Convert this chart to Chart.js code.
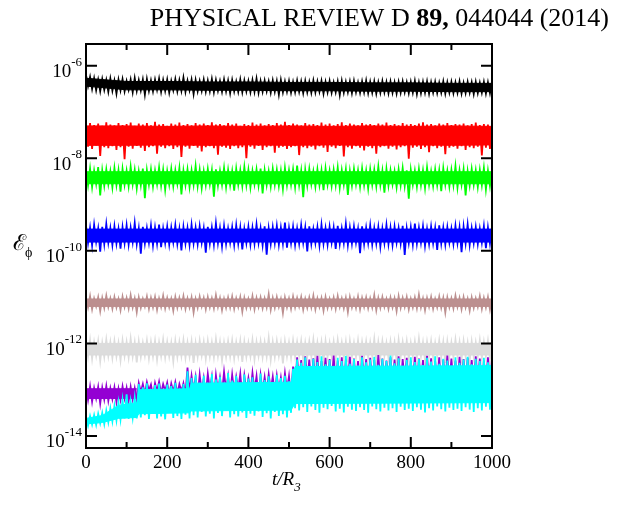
<!DOCTYPE html>
<html><head><meta charset="utf-8">
<script src="https://cdn.jsdelivr.net/npm/chart.js@4/dist/chart.umd.min.js"></script>
<style>html,body{margin:0;padding:0;background:#fff;}#wrap{position:relative;width:618px;height:506px;}</style>
</head><body><div id="wrap"><canvas id="c" width="618" height="506"></canvas></div>
<script>
// time samples t/R3
const tValues = [
0,5,10,15,20,25,30,35,40,45,50,55,60,65,70,75,80,85,90,95,
100,105,110,115,120,125,130,135,140,145,150,155,160,165,170,175,180,185,190,195,
200,205,210,215,220,225,230,235,240,245,250,255,260,265,270,275,280,285,290,295,
300,305,310,315,320,325,330,335,340,345,350,355,360,365,370,375,380,385,390,395,
400,405,410,415,420,425,430,435,440,445,450,455,460,465,470,475,480,485,490,495,
500,505,510,515,520,525,530,535,540,545,550,555,560,565,570,575,580,585,590,595,
600,605,610,615,620,625,630,635,640,645,650,655,660,665,670,675,680,685,690,695,
700,705,710,715,720,725,730,735,740,745,750,755,760,765,770,775,780,785,790,795,
800,805,810,815,820,825,830,835,840,845,850,855,860,865,870,875,880,885,890,895,
900,905,910,915,920,925,930,935,940,945,950,955,960,965,970,975,980,985,990,995,
1000];

// log10(E_phi) values
const blackExp = [
-6.20,-6.44,-6.24,-6.50,-6.27,-6.53,-6.30,-6.55,-6.29,-6.52,
-6.31,-6.56,-6.28,-6.54,-6.32,-6.60,-6.30,-6.53,-6.29,-6.55,
-6.33,-6.52,-6.30,-6.57,-6.27,-6.54,-6.31,-6.53,-6.30,-6.62,
-6.29,-6.54,-6.32,-6.55,-6.30,-6.52,-6.28,-6.56,-6.31,-6.54,
-6.30,-6.58,-6.33,-6.53,-6.29,-6.55,-6.31,-6.54,-6.26,-6.56,
-6.32,-6.53,-6.30,-6.61,-6.31,-6.55,-6.33,-6.54,-6.30,-6.56,
-6.32,-6.55,-6.29,-6.57,-6.31,-6.54,-6.33,-6.56,-6.30,-6.55,
-6.32,-6.59,-6.31,-6.55,-6.34,-6.56,-6.30,-6.57,-6.32,-6.55,
-6.33,-6.57,-6.31,-6.56,-6.28,-6.58,-6.33,-6.56,-6.32,-6.55,
-6.34,-6.58,-6.32,-6.56,-6.33,-6.62,-6.31,-6.57,-6.34,-6.56,
-6.33,-6.58,-6.35,-6.57,-6.32,-6.56,-6.34,-6.59,-6.33,-6.57,
-6.35,-6.58,-6.32,-6.57,-6.34,-6.56,-6.33,-6.60,-6.35,-6.57,
-6.33,-6.58,-6.36,-6.57,-6.34,-6.63,-6.33,-6.58,-6.35,-6.57,
-6.34,-6.59,-6.33,-6.57,-6.36,-6.58,-6.34,-6.57,-6.32,-6.59,
-6.35,-6.58,-6.34,-6.60,-6.36,-6.58,-6.33,-6.57,-6.35,-6.59,
-6.34,-6.58,-6.36,-6.60,-6.35,-6.58,-6.34,-6.57,-6.36,-6.59,
-6.35,-6.58,-6.33,-6.61,-6.36,-6.59,-6.35,-6.58,-6.34,-6.60,
-6.36,-6.58,-6.35,-6.59,-6.37,-6.58,-6.34,-6.60,-6.36,-6.58,
-6.35,-6.59,-6.36,-6.58,-6.34,-6.60,-6.37,-6.59,-6.35,-6.58,
-6.36,-6.61,-6.35,-6.59,-6.37,-6.58,-6.35,-6.60,-6.36,-6.59,
-6.35];

const redExp = [
-7.27,-7.75,-7.24,-7.80,-7.28,-7.72,-7.25,-7.95,-7.30,-7.76,
-7.22,-7.78,-7.27,-7.74,-7.29,-7.82,-7.24,-7.76,-7.28,-8.02,
-7.26,-7.75,-7.23,-7.79,-7.30,-7.73,-7.25,-7.77,-7.27,-7.84,
-7.24,-7.76,-7.29,-7.74,-7.21,-7.90,-7.27,-7.75,-7.26,-7.78,
-7.30,-7.74,-7.25,-7.80,-7.27,-7.76,-7.23,-7.97,-7.28,-7.75,
-7.26,-7.79,-7.29,-7.73,-7.24,-7.77,-7.27,-7.85,-7.25,-7.76,
-7.28,-7.74,-7.22,-7.78,-7.27,-7.92,-7.26,-7.75,-7.29,-7.77,
-7.24,-7.80,-7.27,-7.74,-7.25,-7.78,-7.30,-7.76,-7.26,-8.00,
-7.28,-7.75,-7.23,-7.79,-7.27,-7.73,-7.25,-7.82,-7.29,-7.76,
-7.26,-7.74,-7.28,-7.88,-7.24,-7.77,-7.27,-7.75,-7.21,-7.80,
-7.28,-7.76,-7.25,-7.74,-7.27,-7.93,-7.29,-7.76,-7.24,-7.78,
-7.27,-7.75,-7.26,-7.81,-7.28,-7.74,-7.23,-7.77,-7.27,-7.86,
-7.25,-7.75,-7.29,-7.78,-7.26,-7.73,-7.22,-7.96,-7.28,-7.76,
-7.25,-7.79,-7.27,-7.74,-7.29,-7.77,-7.24,-7.83,-7.27,-7.75,
-7.26,-7.78,-7.28,-7.90,-7.25,-7.76,-7.27,-7.74,-7.23,-7.79,
-7.28,-7.75,-7.26,-7.81,-7.29,-7.76,-7.24,-7.74,-7.27,-8.01,
-7.26,-7.77,-7.28,-7.75,-7.25,-7.80,-7.22,-7.76,-7.27,-7.87,
-7.26,-7.74,-7.29,-7.78,-7.25,-7.75,-7.27,-7.91,-7.24,-7.77,
-7.28,-7.75,-7.26,-7.79,-7.27,-7.74,-7.25,-7.82,-7.29,-7.76,
-7.26,-7.78,-7.23,-7.75,-7.28,-7.94,-7.26,-7.77,-7.27,-7.80,
-7.27];

const greenExp = [
-8.25,-8.58,-8.22,-8.62,-8.27,-8.55,-8.19,-8.80,-8.26,-8.59,
-8.24,-8.56,-8.28,-8.63,-8.21,-8.58,-8.26,-8.72,-8.23,-8.57,
-8.27,-8.60,-8.18,-8.56,-8.25,-8.65,-8.28,-8.58,-8.22,-8.86,
-8.26,-8.57,-8.24,-8.61,-8.27,-8.56,-8.20,-8.59,-8.25,-8.68,
-8.28,-8.57,-8.23,-8.60,-8.26,-8.55,-8.21,-8.78,-8.27,-8.58,
-8.24,-8.62,-8.26,-8.57,-8.17,-8.60,-8.25,-8.64,-8.28,-8.58,
-8.23,-8.56,-8.26,-8.83,-8.24,-8.59,-8.27,-8.57,-8.21,-8.62,
-8.25,-8.58,-8.28,-8.70,-8.23,-8.57,-8.26,-8.60,-8.19,-8.58,
-8.25,-8.63,-8.27,-8.56,-8.24,-8.59,-8.22,-8.76,-8.26,-8.58,
-8.28,-8.61,-8.23,-8.57,-8.25,-8.60,-8.27,-8.66,-8.21,-8.58,
-8.26,-8.57,-8.24,-8.62,-8.16,-8.58,-8.27,-8.84,-8.25,-8.59,
-8.23,-8.56,-8.28,-8.61,-8.24,-8.58,-8.26,-8.69,-8.22,-8.57,
-8.27,-8.60,-8.25,-8.58,-8.20,-8.63,-8.26,-8.57,-8.24,-8.79,
-8.28,-8.59,-8.23,-8.56,-8.26,-8.61,-8.22,-8.58,-8.27,-8.65,
-8.24,-8.57,-8.25,-8.60,-8.18,-8.58,-8.27,-8.74,-8.23,-8.59,
-8.26,-8.56,-8.28,-8.62,-8.24,-8.58,-8.21,-8.60,-8.26,-8.87,
-8.25,-8.57,-8.27,-8.61,-8.23,-8.58,-8.26,-8.64,-8.20,-8.57,
-8.28,-8.60,-8.24,-8.58,-8.26,-8.71,-8.22,-8.57,-8.27,-8.61,
-8.25,-8.58,-8.17,-8.63,-8.26,-8.57,-8.24,-8.80,-8.28,-8.59,
-8.23,-8.57,-8.26,-8.62,-8.25,-8.58,-8.21,-8.67,-8.27,-8.60,
-8.25];

const blueExp = [
-9.46,-9.83,-9.50,-9.88,-9.44,-9.80,-9.52,-10.02,-9.48,-9.85,
-9.42,-9.82,-9.51,-9.87,-9.47,-9.84,-9.53,-9.95,-9.49,-9.83,
-9.45,-9.86,-9.50,-9.81,-9.40,-9.85,-9.52,-10.06,-9.48,-9.84,
-9.51,-9.82,-9.46,-9.88,-9.50,-9.84,-9.43,-9.92,-9.52,-9.83,
-9.48,-9.86,-9.50,-9.81,-9.45,-9.85,-9.53,-9.99,-9.49,-9.84,
-9.51,-9.87,-9.44,-9.83,-9.50,-9.85,-9.47,-9.82,-9.52,-10.04,
-9.48,-9.84,-9.50,-9.86,-9.41,-9.83,-9.51,-9.90,-9.47,-9.85,
-9.52,-9.82,-9.49,-9.87,-9.45,-9.84,-9.50,-9.97,-9.53,-9.83,
-9.48,-9.86,-9.50,-9.84,-9.43,-9.82,-9.51,-9.88,-9.47,-10.08,
-9.52,-9.85,-9.49,-9.83,-9.46,-9.86,-9.50,-9.84,-9.39,-9.93,
-9.51,-9.83,-9.48,-9.87,-9.52,-9.84,-9.45,-9.82,-9.50,-10.01,
-9.47,-9.85,-9.53,-9.83,-9.49,-9.88,-9.44,-9.84,-9.51,-9.86,
-9.48,-9.82,-9.50,-9.96,-9.46,-9.85,-9.52,-9.83,-9.42,-9.87,
-9.50,-9.84,-9.48,-9.82,-9.53,-10.05,-9.47,-9.85,-9.50,-9.83,
-9.45,-9.86,-9.51,-9.84,-9.49,-9.91,-9.52,-9.83,-9.44,-9.85,
-9.50,-9.87,-9.48,-9.82,-9.51,-9.84,-9.46,-10.09,-9.52,-9.83,
-9.49,-9.86,-9.41,-9.84,-9.50,-9.82,-9.47,-9.89,-9.53,-9.85,
-9.48,-9.83,-9.51,-9.98,-9.45,-9.84,-9.50,-9.86,-9.49,-9.82,
-9.52,-9.85,-9.46,-9.83,-9.50,-10.03,-9.48,-9.84,-9.43,-9.87,
-9.51,-9.83,-9.49,-9.85,-9.52,-9.82,-9.47,-9.94,-9.50,-9.84,
-9.48];

const brownExp = [
-11.01,-11.22,-10.98,-11.26,-11.03,-11.20,-11.00,-11.30,-11.02,-11.23,
-10.97,-11.21,-11.03,-11.25,-11.00,-11.22,-11.04,-11.28,-10.99,-11.21,
-11.02,-11.24,-10.96,-11.22,-11.03,-11.32,-11.01,-11.23,-11.04,-11.20,
-10.99,-11.25,-11.02,-11.22,-11.00,-11.27,-11.03,-11.21,-10.97,-11.24,
-11.02,-11.22,-11.04,-11.29,-11.00,-11.23,-11.02,-11.21,-10.98,-11.25,
-11.03,-11.22,-11.01,-11.33,-11.04,-11.23,-10.99,-11.20,-11.02,-11.26,
-11.00,-11.22,-11.03,-11.24,-10.96,-11.21,-11.02,-11.28,-11.04,-11.23,
-11.01,-11.22,-10.99,-11.25,-11.03,-11.21,-11.00,-11.31,-11.02,-11.23,
-11.04,-11.22,-10.98,-11.26,-11.02,-11.21,-11.01,-11.24,-11.03,-11.22,
-10.94,-11.27,-11.02,-11.23,-11.00,-11.21,-11.04,-11.34,-11.01,-11.22,
-11.03,-11.25,-10.99,-11.22,-11.02,-11.20,-11.00,-11.27,-11.04,-11.23,
-11.01,-11.22,-10.97,-11.26,-11.03,-11.21,-11.02,-11.29,-11.00,-11.23,
-11.04,-11.22,-11.01,-11.25,-10.98,-11.21,-11.03,-11.24,-11.02,-11.32,
-11.00,-11.22,-11.04,-11.23,-10.99,-11.26,-11.02,-11.21,-11.01,-11.24,
-11.03,-11.22,-10.96,-11.28,-11.02,-11.23,-11.00,-11.21,-11.04,-11.25,
-11.01,-11.22,-11.03,-11.30,-10.98,-11.23,-11.02,-11.21,-11.00,-11.26,
-11.04,-11.22,-11.01,-11.24,-10.95,-11.22,-11.03,-11.28,-11.02,-11.21,
-11.00,-11.25,-11.04,-11.22,-10.99,-11.23,-11.02,-11.33,-11.01,-11.22,
-11.03,-11.24,-10.97,-11.21,-11.02,-11.26,-11.00,-11.22,-11.04,-11.29,
-11.01,-11.23,-11.03,-11.21,-10.98,-11.25,-11.02,-11.22,-11.00,-11.27,
-11.02];

const grayExp = [
-11.96,-12.28,-11.93,-12.33,-11.98,-12.26,-11.95,-12.38,-11.99,-12.29,
-11.92,-12.27,-11.97,-12.31,-11.95,-12.28,-11.99,-12.36,-11.94,-12.27,
-11.97,-12.30,-11.90,-12.28,-11.98,-12.41,-11.96,-12.29,-11.99,-12.26,
-11.94,-12.32,-11.97,-12.28,-11.95,-12.35,-11.98,-12.27,-11.92,-12.30,
-11.97,-12.28,-11.99,-12.39,-11.95,-12.29,-11.97,-12.27,-11.93,-12.31,
-11.98,-12.28,-11.96,-12.42,-11.99,-12.29,-11.94,-12.26,-11.97,-12.33,
-11.95,-12.28,-11.98,-12.30,-11.91,-12.27,-11.97,-12.37,-11.99,-12.29,
-11.96,-12.28,-11.94,-12.32,-11.98,-12.27,-11.95,-12.40,-11.97,-12.29,
-11.99,-12.28,-11.93,-12.34,-11.97,-12.27,-11.96,-12.30,-11.98,-12.28,
-11.89,-12.35,-11.97,-12.29,-11.95,-12.27,-11.99,-12.43,-11.96,-12.28,
-11.98,-12.31,-11.94,-12.28,-11.97,-12.26,-11.95,-12.36,-11.99,-12.29,
-11.96,-12.28,-11.92,-12.33,-11.98,-12.27,-11.97,-12.38,-11.95,-12.29,
-11.99,-12.28,-11.96,-12.31,-11.93,-12.27,-11.98,-12.30,-11.97,-12.41,
-11.95,-12.28,-11.99,-12.29,-11.94,-12.34,-11.97,-12.27,-11.96,-12.30,
-11.98,-12.28,-11.91,-12.37,-11.97,-12.29,-11.95,-12.27,-11.99,-12.32,
-11.96,-12.28,-11.98,-12.39,-11.93,-12.29,-11.97,-12.27,-11.95,-12.33,
-11.99,-12.28,-11.96,-12.30,-11.90,-12.28,-11.98,-12.36,-11.97,-12.27,
-11.95,-12.31,-11.99,-12.28,-11.94,-12.29,-11.97,-12.42,-11.96,-12.28,
-11.98,-12.30,-11.92,-12.27,-11.97,-12.34,-11.95,-12.28,-11.99,-12.38,
-11.96,-12.29,-11.98,-12.27,-11.93,-12.32,-11.97,-12.28,-11.95,-12.35,
-11.97];

const purpleExp = [
-12.95,-13.22,-12.93,-13.26,-12.97,-13.19,-12.94,-13.30,-12.96,-13.21,
-12.92,-13.24,-12.97,-13.20,-12.95,-13.27,-12.98,-13.22,-12.93,-13.19,
-12.96,-13.25,-12.94,-13.21,-12.97,-13.23,
-12.86,-13.05,-12.88,-13.10,-12.84,-13.02,-12.89,-13.15,-12.86,-13.04,
-12.83,-13.08,-12.88,-13.03,-12.85,-13.12,-12.87,-13.05,-12.84,-13.09,
-12.88,-13.04,-12.86,-13.10,-12.52,-13.06,
-12.70,-13.02,-12.73,-13.15,-12.68,-13.05,-12.75,-13.10,-12.66,-13.00,
-12.72,-13.20,-12.69,-13.04,-12.74,-13.08,-12.62,-13.02,-12.71,-13.12,
-12.68,-13.05,-12.73,-13.00,-12.66,-13.15,-12.70,-13.03,-12.75,-13.07,
-12.64,-13.02,-12.71,-13.18,-12.69,-13.04,-12.73,-13.06,-12.67,-13.01,
-12.72,-13.10,-12.70,-13.03,-12.74,-13.08,-12.65,-13.02,-12.71,-13.14,
-12.50,
-12.95,-12.30,-12.85,-12.36,-12.90,-12.28,-12.80,-12.35,-12.95,-12.32,
-12.85,-12.27,-12.92,-12.38,-12.82,-12.31,-12.98,-12.34,-12.84,-12.26,
-12.90,-12.37,-12.86,-12.30,-12.93,-12.35,-12.81,-12.29,-12.96,-12.33,
-12.85,-12.38,-12.91,-12.27,-12.83,-12.34,-12.97,-12.31,-12.86,-12.36,
-12.92,-12.25,-12.84,-12.33,-12.95,-12.37,-12.82,-12.30,-12.90,-12.35,
-12.87,-12.28,-12.93,-12.34,-12.83,-12.31,-12.96,-12.37,-12.85,-12.29,
-12.91,-12.33,-12.84,-12.36,-12.94,-12.27,-12.86,-12.32,-12.92,-12.38,
-12.82,-12.30,-12.97,-12.35,-12.85,-12.26,-12.90,-12.33,-12.87,-12.37,
-12.93,-12.29,-12.84,-12.34,-12.95,-12.31,-12.86,-12.36,-12.91,-12.28,
-12.83,-12.33,-12.96,-12.37,-12.85,-12.30,-12.92,-12.34];

const cyanExp = [
-13.60,-13.78,-13.57,-13.75,-13.55,-13.76,-13.52,-13.72,-13.50,-13.74,
-13.45,-13.70,-13.40,-13.68,-13.35,-13.66,
-13.28,-13.64,-13.22,-13.62,-13.10,-13.63,-13.25,-13.60,-13.18,-13.62,
-12.88,-13.60,-12.95,-13.55,-12.86,-13.63,-13.05,-13.52,-12.90,-13.62,
-12.87,-13.58,-13.10,-13.64,-12.89,-13.50,-12.92,-13.61,-12.85,-13.57,
-13.00,-13.63,-12.88,-13.54,-12.60,-13.62,
-12.75,-13.55,-12.68,-13.60,-12.85,-13.48,-12.70,-13.58,-12.95,-13.52,
-12.66,-13.62,-12.78,-13.50,-12.72,-13.57,-12.90,-13.45,-12.64,-13.60,
-12.80,-13.53,-12.70,-13.58,-12.88,-13.49,-12.67,-13.61,-12.76,-13.52,
-12.73,-13.56,-12.92,-13.47,-12.65,-13.59,-12.79,-13.51,-12.71,-13.62,
-12.86,-13.48,-12.68,-13.57,-12.75,-13.53,-12.70,-13.60,-12.82,-13.50,
-12.55,
-13.40,-12.35,-13.45,-12.42,-13.38,-12.30,-13.48,-12.50,-13.36,-12.33,
-13.44,-12.40,-13.50,-12.28,-13.39,-12.45,-13.42,-12.36,-13.35,-12.52,
-13.47,-12.31,-13.41,-12.38,-13.49,-12.27,-13.37,-12.44,-13.43,-12.34,
-13.46,-12.48,-13.38,-12.30,-13.44,-12.41,-13.50,-12.35,-13.36,-12.29,
-13.42,-12.46,-13.47,-12.33,-13.39,-12.38,-13.45,-12.26,-13.40,-12.43,
-13.48,-12.32,-13.37,-12.49,-13.44,-12.36,-13.41,-12.30,-13.46,-12.40,
-13.38,-12.34,-13.43,-12.47,-13.49,-12.31,-13.40,-12.39,-13.45,-12.28,
-13.36,-12.44,-13.42,-12.33,-13.47,-12.37,-13.39,-12.50,-13.44,-12.30,
-13.41,-12.42,-13.46,-12.35,-13.38,-12.29,-13.43,-12.45,-13.48,-12.33,
-13.40,-12.38,-13.45,-12.31,-13.37,-12.41,-13.43,-12.36];

// dense core of each band (log10)
const coreT = [0, 100, 200, 300, 400, 500, 600, 700, 800, 900, 1000];
const blackCoreHi = [-6.27, -6.34, -6.34, -6.35, -6.35, -6.36, -6.36, -6.37, -6.37, -6.38, -6.38];
const blackCoreLo = [-6.44, -6.52, -6.52, -6.53, -6.53, -6.54, -6.54, -6.55, -6.55, -6.56, -6.56];
const redCoreHi = [-7.30, -7.30, -7.31, -7.30, -7.31, -7.30, -7.31, -7.30, -7.31, -7.30, -7.31];
const redCoreLo = [-7.72, -7.72, -7.71, -7.72, -7.71, -7.72, -7.71, -7.72, -7.71, -7.72, -7.71];
const greenCoreHi = [-8.29, -8.29, -8.29, -8.29, -8.29, -8.29, -8.29, -8.29, -8.29, -8.29, -8.29];
const greenCoreLo = [-8.55, -8.55, -8.55, -8.55, -8.55, -8.55, -8.55, -8.55, -8.55, -8.55, -8.55];
const blueCoreHi = [-9.53, -9.53, -9.53, -9.53, -9.53, -9.53, -9.53, -9.53, -9.53, -9.53, -9.53];
const blueCoreLo = [-9.81, -9.81, -9.81, -9.81, -9.81, -9.81, -9.81, -9.81, -9.81, -9.81, -9.81];
const brownCoreHi = [-11.04, -11.04, -11.04, -11.04, -11.04, -11.04, -11.04, -11.04, -11.04, -11.04, -11.04];
const brownCoreLo = [-11.20, -11.20, -11.20, -11.20, -11.20, -11.20, -11.20, -11.20, -11.20, -11.20, -11.20];
const grayCoreHi = [-12.00, -12.00, -12.00, -12.00, -12.00, -12.00, -12.00, -12.00, -12.00, -12.00, -12.00];
const grayCoreLo = [-12.25, -12.25, -12.25, -12.25, -12.25, -12.25, -12.25, -12.25, -12.25, -12.25, -12.25];
const purpleCoreT = [0, 60, 125];
const purpleCoreHi = [-12.98, -12.98, -12.98];
const purpleCoreLo = [-13.19, -13.19, -13.19];
const cyanCoreT = [0, 40, 80, 125, 130, 255, 260, 505, 515, 1000];
const cyanCoreHi = [-13.62, -13.56, -13.34, -13.28, -13.00, -12.98, -12.86, -12.84, -12.50, -12.48];
const cyanCoreLo = [-13.74, -13.71, -13.62, -13.60, -13.52, -13.50, -13.46, -13.44, -13.30, -13.28];

// axis ticks
const xMajorTicks = [0, 200, 400, 600, 800, 1000];
const xMinorTicks = [100, 300, 500, 700, 900];
const yMajorExps = [-6, -8, -10, -12, -14];
const yRangeExp = [-14.26, -5.53];

const series = [
  {exp: blackExp, ct: coreT, hi: blackCoreHi, lo: blackCoreLo, color: '#000000', order: 2},
  {exp: redExp, ct: coreT, hi: redCoreHi, lo: redCoreLo, color: '#ff0000', order: 2},
  {exp: greenExp, ct: coreT, hi: greenCoreHi, lo: greenCoreLo, color: '#00ff00', order: 2},
  {exp: blueExp, ct: coreT, hi: blueCoreHi, lo: blueCoreLo, color: '#0000ff', order: 2},
  {exp: brownExp, ct: coreT, hi: brownCoreHi, lo: brownCoreLo, color: '#bc8f8f', order: 2},
  {exp: grayExp, ct: coreT, hi: grayCoreHi, lo: grayCoreLo, color: '#dcdcdc', order: 2},
  {exp: purpleExp, ct: purpleCoreT, hi: purpleCoreHi, lo: purpleCoreLo, color: '#9400d3', order: 1},
  {exp: cyanExp, ct: cyanCoreT, hi: cyanCoreHi, lo: cyanCoreLo, color: '#00ffff', order: 0}
];

const datasets = [];
series.forEach(s => {
  datasets.push({
    data: s.ct.map((t, i) => ({x: t, y: Math.pow(10, s.hi[i])})),
    borderColor: s.color, borderWidth: 1, pointRadius: 0, tension: 0, fill: false, order: s.order
  });
  datasets.push({
    data: s.ct.map((t, i) => ({x: t, y: Math.pow(10, s.lo[i])})),
    borderColor: s.color, backgroundColor: s.color, borderWidth: 1, pointRadius: 0, tension: 0,
    fill: '-1', order: s.order
  });
  datasets.push({
    data: s.exp.map((e, i) => ({x: tValues[i], y: Math.pow(10, e)})),
    borderColor: s.color, borderWidth: 1.8, pointRadius: 0, tension: 0, fill: false, order: s.order
  });
});

const SERIF = '"Liberation Serif", "Times New Roman", "DejaVu Serif", serif';

const frame = {
  id: 'frame',
  afterDraw(chart) {
    const {ctx, chartArea: a, scales: {x, y}} = chart;
    ctx.save();
    ctx.strokeStyle = '#000';
    ctx.lineWidth = 2;
    ctx.strokeRect(a.left, a.top, a.right - a.left, a.bottom - a.top);
    ctx.beginPath();
    xMajorTicks.forEach(v => {
      const px = x.getPixelForValue(v);
      ctx.moveTo(px, a.bottom); ctx.lineTo(px, a.bottom - 11);
      ctx.moveTo(px, a.top); ctx.lineTo(px, a.top + 11);
    });
    xMinorTicks.forEach(v => {
      const px = x.getPixelForValue(v);
      ctx.moveTo(px, a.bottom); ctx.lineTo(px, a.bottom - 6);
      ctx.moveTo(px, a.top); ctx.lineTo(px, a.top + 6);
    });
    yMajorExps.forEach(e => {
      const py = y.getPixelForValue(Math.pow(10, e));
      ctx.moveTo(a.left, py); ctx.lineTo(a.left + 11, py);
      ctx.moveTo(a.right, py); ctx.lineTo(a.right - 11, py);
    });
    ctx.stroke();

    ctx.fillStyle = '#000';
    ctx.textBaseline = 'alphabetic';
    ctx.font = '19px ' + SERIF;
    ctx.textAlign = 'center';
    xMajorTicks.forEach(v => ctx.fillText(String(v), x.getPixelForValue(v), a.bottom + 20));
    yMajorExps.forEach(e => {
      const py = y.getPixelForValue(Math.pow(10, e));
      const expStr = String(e);
      ctx.font = '13px ' + SERIF;
      const ew = ctx.measureText(expStr).width;
      ctx.textAlign = 'right';
      ctx.fillText(expStr, a.left - 4, py);
      ctx.font = '19px ' + SERIF;
      ctx.fillText('10', a.left - 4 - ew, py + 11.5);
    });
    ctx.textAlign = 'left';
    ctx.font = 'italic 19px ' + SERIF;
    const tx = 272;
    ctx.fillText('t/R', tx, a.bottom + 37);
    const tw = ctx.measureText('t/R').width;
    ctx.font = 'italic 13px ' + SERIF;
    ctx.fillText('3', tx + tw, a.bottom + 43);
    ctx.font = '22px ' + SERIF;
    ctx.fillText('\u2130', 13, 250);
    ctx.font = '14px ' + SERIF;
    ctx.fillText('\u03D5', 25, 257);
    // running head
    const HS = 26;
    const h1 = 'PHYSICAL REVIEW D ', h2 = '89,', h3 = ' 044044 (2014)';
    ctx.font = HS + 'px ' + SERIF;
    const w1 = ctx.measureText(h1).width, w3 = ctx.measureText(h3).width;
    ctx.font = 'bold ' + HS + 'px ' + SERIF;
    const w2 = ctx.measureText(h2).width;
    const hx = 609 - (w1 + w2 + w3), hy = 26;
    ctx.font = HS + 'px ' + SERIF;
    ctx.fillText(h1, hx, hy);
    ctx.font = 'bold ' + HS + 'px ' + SERIF;
    ctx.fillText(h2, hx + w1, hy);
    ctx.font = HS + 'px ' + SERIF;
    ctx.fillText(h3, hx + w1 + w2, hy);
    ctx.restore();
  }
};

new Chart(document.getElementById('c'), {
  type: 'line',
  data: {datasets},
  options: {
    responsive: false,
    animation: false,
    devicePixelRatio: 1,
    layout: {padding: {left: 86, right: 126, top: 44, bottom: 58}},
    plugins: {legend: {display: false}, tooltip: {enabled: false}, filler: {propagate: false}},
    scales: {
      x: {type: 'linear', min: 0, max: 1000,
          ticks: {display: false}, grid: {display: false, drawTicks: false, tickLength: 0}, border: {display: false}},
      y: {type: 'logarithmic', min: Math.pow(10, yRangeExp[0]), max: Math.pow(10, yRangeExp[1]),
          ticks: {display: false}, grid: {display: false, drawTicks: false, tickLength: 0}, border: {display: false}}
    }
  },
  plugins: [frame]
});
</script></body></html>
